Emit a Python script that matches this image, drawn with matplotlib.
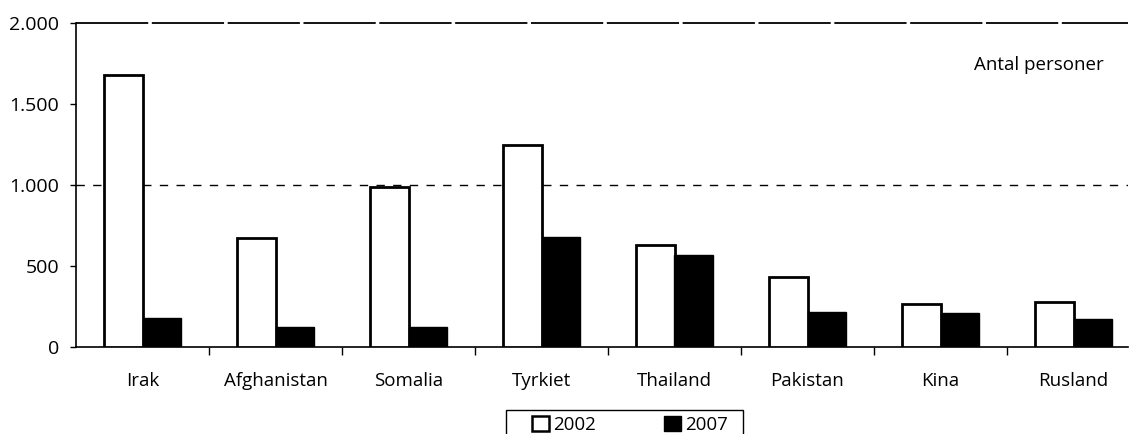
import matplotlib
matplotlib.use("Agg")
import matplotlib.pyplot as plt
import numpy as np
from matplotlib.patches import Patch, Rectangle

categories = ["Irak", "Afghanistan", "Somalia", "Tyrkiet", "Thailand", "Pakistan", "Kina", "Rusland"]
values_2002 = [1680, 675, 985, 1250, 632, 435, 265, 275]
values_2007 = [178, 125, 125, 678, 566, 214, 208, 172]
series_labels = ["2002", "2007"]
yticks = [0, 500, 1000, 1500, 2000]
ytick_labels = ["0", "500", "1.000", "1.500", "2.000"]
note = "Antal personer"

plt.rcParams['font.family'] = ['Open Sans', 'DejaVu Sans']

W, H = 1131, 434
fig = plt.figure(figsize=(W/100, H/100), dpi=100)
left, right, top, bottom = 76, 1128, 23, 347
ax = fig.add_axes([left/W, 1-bottom/H, (right-left)/W, (bottom-top)/H])

x = np.arange(len(categories))
bw = 0.29
ax.bar(x - bw/2, values_2002, bw, facecolor='white', edgecolor='black', linewidth=2.0, zorder=3)
ax.bar(x + bw/2, values_2007, bw, facecolor='black', edgecolor='black', linewidth=1.0, zorder=3)

ax.set_xlim(-0.5, -0.5 + (right-left)/133)
ax.set_ylim(0, 2000)
ax.set_yticks(yticks)
ax.set_yticklabels(ytick_labels, fontsize=14)
ax.axhline(1000, color='black', lw=1.0, ls=(0, (6, 6)), zorder=1)
ax.axhline(2000, color='black', lw=1.3, ls=(0, (40, 2)), zorder=1, clip_on=False)

ax.set_xticks(x)
ax.set_xticklabels(categories, fontsize=13.5)
ax.tick_params(axis='x', length=0, pad=18)
ax.set_xticks(np.arange(0.5, len(categories)-0.5, 1), minor=True)
ax.tick_params(axis='x', which='minor', length=6, width=1, direction='out')
ax.tick_params(axis='y', length=4, width=1, direction='out', pad=8)

for s in ['top', 'right']:
    ax.spines[s].set_visible(False)
ax.spines['left'].set_linewidth(1.2)
ax.spines['bottom'].set_linewidth(1.2)

ax.text(0.977, 0.87, note, transform=ax.transAxes, ha='right', va='center', fontsize=13.5)

# legend box extending past bottom edge
fig.patches.append(Rectangle((506/W, -0.05), (743-506)/W, 0.05 + 1 - 410/H,
                             transform=fig.transFigure, facecolor='none',
                             edgecolor='black', linewidth=1.0))
handles = [Patch(facecolor='white', edgecolor='black', linewidth=1.8),
           Patch(facecolor='black', edgecolor='black')]
leg = fig.legend(handles, series_labels, loc='center left',
                 bbox_to_anchor=(532/W, 1-425/H), ncol=2, frameon=False,
                 fontsize=13.5, handlelength=0.9, handleheight=0.9, handletextpad=0.25,
                 columnspacing=3.6, borderpad=0, borderaxespad=0)

fig.savefig("out.png", dpi=100)
